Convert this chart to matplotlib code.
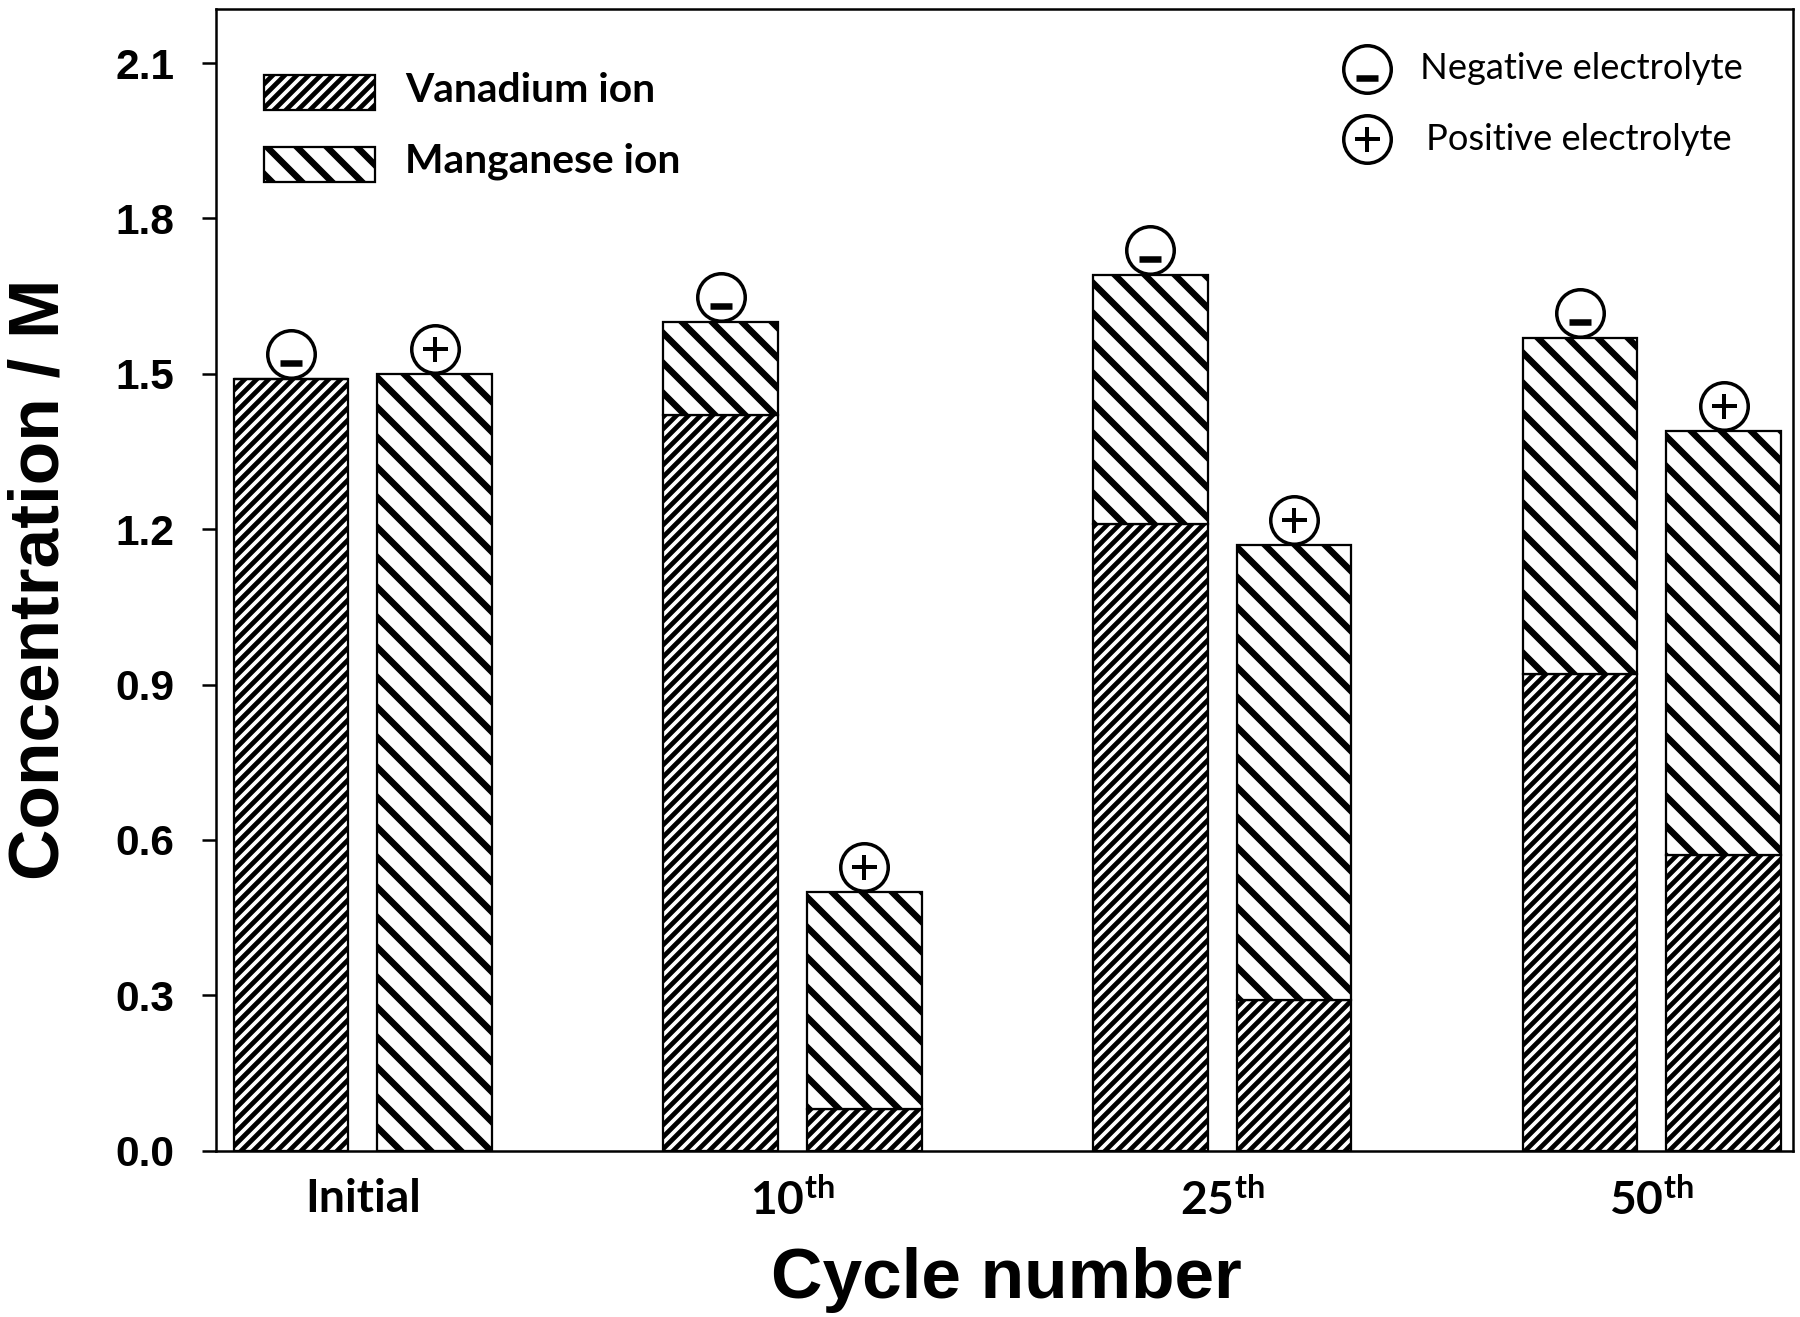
import matplotlib.pyplot as plt
import matplotlib.transforms as mtransforms
from matplotlib.patches import Rectangle
import numpy as np

plt.rcParams['hatch.linewidth'] = 2.6
plt.rcParams['mathtext.fontset'] = 'custom'
plt.rcParams['mathtext.rm'] = 'Lato:bold'
plt.rcParams['mathtext.it'] = 'Lato:bold'
plt.rcParams['mathtext.bf'] = 'Lato:bold'

# data (M)
cycle_labels = ['Initial', r'10$^{\mathrm{th}}$', r'25$^{\mathrm{th}}$', r'50$^{\mathrm{th}}$']
neg_vanadium = [1.49, 1.42, 1.21, 0.92]
neg_manganese = [0.00, 0.18, 0.48, 0.65]
pos_vanadium = [0.00, 0.08, 0.29, 0.57]
pos_manganese = [1.50, 0.42, 0.88, 0.82]
y_ticks = [0.0, 0.3, 0.6, 0.9, 1.2, 1.5, 1.8, 2.1]

V_HATCH = '/////'
MN_HATCH = '\\\\'
V_HATCH_LW = 1.9


def thin_hatch(patches):
    # vanadium hatch is finer than the manganese one
    for p in patches:
        if hasattr(p, 'set_hatch_linewidth'):
            p.set_hatch_linewidth(V_HATCH_LW)


fig = plt.figure(figsize=(10, 1317 / 180), dpi=180)
ax = fig.add_axes([0.1199, 0.1263, 0.8763, 0.8667])

x = np.arange(len(cycle_labels))
w = 0.267
off = 0.167
bar_kw = dict(width=w, color='white', edgecolor='black', linewidth=0.9)

b1 = ax.bar(x - off, neg_vanadium, hatch=V_HATCH, **bar_kw)
ax.bar(x - off, neg_manganese, bottom=neg_vanadium, hatch=MN_HATCH, **bar_kw)
b2 = ax.bar(x + off, pos_vanadium, hatch=V_HATCH, **bar_kw)
ax.bar(x + off, pos_manganese, bottom=pos_vanadium, hatch=MN_HATCH, **bar_kw)
thin_hatch(b1)
thin_hatch(b2)


def sign_marker(tr, xx, yy, sign, dy=10.0):
    circ = mtransforms.offset_copy(tr, fig=fig, x=0, y=dy, units='points')
    ax.plot([xx], [yy], 'o', ms=19, mfc='white', mec='black', mew=1.4,
            transform=circ, clip_on=False, zorder=5)
    if sign == '-':
        t = mtransforms.offset_copy(tr, fig=fig, x=0, y=dy - 3.6, units='points')
        ax.plot([xx], [yy], '_', ms=8.5, mew=2.6, color='black',
                transform=t, clip_on=False, zorder=6)
    else:
        t = mtransforms.offset_copy(tr, fig=fig, x=0, y=dy, units='points')
        ax.plot([xx], [yy], '+', ms=10, mew=1.6, color='black',
                transform=t, clip_on=False, zorder=6)


neg_tot = np.add(neg_vanadium, neg_manganese)
pos_tot = np.add(pos_vanadium, pos_manganese)
for i in range(len(x)):
    sign_marker(ax.transData, x[i] - off, neg_tot[i], '-')
    sign_marker(ax.transData, x[i] + off, pos_tot[i], '+')

ax.set_xlim(-0.342, 3.329)
ax.set_ylim(0, 2.204)
ax.set_xticks(x)
ax.set_xticklabels(cycle_labels, fontsize=18.5, fontweight='bold', family='Lato')
# the "Initial" label sits a little right of its group centre
lab0 = ax.get_xticklabels()[0]
lab0.set_transform(lab0.get_transform()
                   + mtransforms.ScaledTranslation(4 / 72, 0, fig.dpi_scale_trans))
ax.set_yticks(y_ticks)
ax.set_yticklabels(['%.1f' % v for v in y_ticks], fontsize=17,
                   fontweight='bold', family='Liberation Sans')
ax.tick_params(axis='y', direction='out', length=5.5, width=1.0, pad=11)
ax.tick_params(axis='x', length=0, pad=11)
for s in ax.spines.values():
    s.set_linewidth(1.0)

ax.set_ylabel('Concentration / M', fontsize=28.5, fontweight='bold', family='Liberation Sans')
ax.set_xlabel('Cycle number', fontsize=28.5, fontweight='bold', family='Liberation Sans')
ax.yaxis.label.set_va('baseline')
ax.xaxis.label.set_va('baseline')
ax.yaxis.set_label_coords(-0.100, 0.5003)
ax.xaxis.set_label_coords(0.5013, -0.1291)

# ion legend (upper left)
leg_v = Rectangle((0.0306, 0.9115), 0.0706, 0.0312, transform=ax.transAxes,
                  facecolor='white', edgecolor='black', linewidth=0.9, hatch=V_HATCH)
ax.add_patch(leg_v)
thin_hatch([leg_v])
ax.add_patch(Rectangle((0.0306, 0.849), 0.0706, 0.030, transform=ax.transAxes,
                       facecolor='white', edgecolor='black', linewidth=0.9, hatch=MN_HATCH))
ax.text(0.120, 0.9286, 'Vanadium ion', transform=ax.transAxes, fontsize=16.3,
        fontweight='bold', family='Lato', va='center')
ax.text(0.120, 0.867, 'Manganese ion', transform=ax.transAxes, fontsize=16.3,
        fontweight='bold', family='Lato', va='center')

# electrolyte legend (upper right)
sign_marker(ax.transAxes, 0.730, 0.9477, '-', dy=0)
sign_marker(ax.transAxes, 0.730, 0.8863, '+', dy=0)
ax.text(0.7635, 0.9477, 'Negative electrolyte', transform=ax.transAxes, fontsize=14.5,
        family='Lato', va='center')
ax.text(0.767, 0.8863, 'Positive electrolyte', transform=ax.transAxes, fontsize=14.5,
        family='Lato', va='center')

fig.savefig('out.png', dpi=180)
